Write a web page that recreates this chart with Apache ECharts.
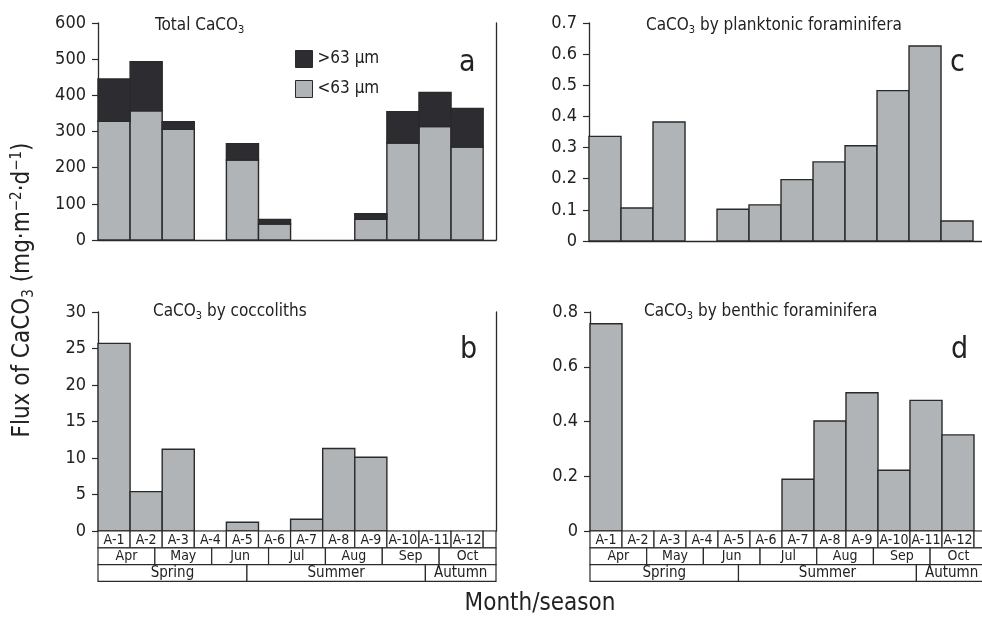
<!DOCTYPE html>
<html>
<head>
<meta charset="utf-8">
<script src="https://cdn.jsdelivr.net/npm/echarts@6/dist/echarts.min.js"></script>
<style>
html, body { margin: 0; padding: 0; background: #fff; }
#chart { width: 982px; height: 618px; }
</style>
</head>
<body>
<div id="chart"></div>
<script>
// sample cups and the calendar rows under the lower panels
const samples = ['A-1', 'A-2', 'A-3', 'A-4', 'A-5', 'A-6', 'A-7', 'A-8', 'A-9', 'A-10', 'A-11', 'A-12']
const months = ['Apr', 'May', 'Jun', 'Jul', 'Aug', 'Sep', 'Oct']
const seasons = ['Spring', 'Summer', 'Autumn']
const seasonEdges = [0, 4.64, 10.2, 12.4]
const xMax = 12.4

// flux values (mg m-2 d-1)
const totalCaCO3 = [445, 493, 327, 0, 266, 57, 0, 0, 73, 355, 408, 364]
const fineCaCO3 = [328, 357, 306, 0, 221, 44, 0, 0, 57, 268, 314, 257]
const coccoliths = [25.7, 5.4, 11.2, 0, 1.2, 0, 1.6, 11.3, 10.1, 0, 0, 0]
const planktonic = [0.336, 0.106, 0.382, 0, 0.102, 0.116, 0.197, 0.254, 0.306, 0.483, 0.626, 0.064]
const benthic = [0.757, 0, 0, 0, 0, 0, 0.189, 0.402, 0.505, 0.222, 0.477, 0.351]

const FONT = "'Liberation Sans Narrow', 'DejaVu Sans Condensed', sans-serif"
const GRAY = '#b1b4b6'
const DARK = '#2c2c31'
const INK = '#2a2a2a'

// right-hand panels run off the page edge, so their axes stop short of xMax
const grids = [
  { left: 98, top: 23, width: 398, height: 217 },
  { left: 589, top: 23, right: 0, height: 218 },
  { left: 98, top: 312, width: 398, height: 219 },
  { left: 590, top: 312, right: 0, height: 219 }
]
const panelXMax = [xMax, 12.28, xMax, 12.25]
const yMax = [600, 0.7, 30, 0.8]
const yStep = [100, 0.1, 5, 0.2]
const frame = [true, false, true, false]

function barRender(color) {
  return function (params, api) {
    let x = api.value(0), y0 = api.value(1), y1 = api.value(2)
    if (!(y1 > y0)) return null
    let a = api.coord([x, y0]), b = api.coord([x + 1, y1])
    return {
      type: 'rect',
      shape: { x: a[0], y: b[1], width: b[0] - a[0], height: a[1] - b[1] },
      style: { fill: color, stroke: INK, lineWidth: 1.4 }
    }
  }
}

function barData(values, base) {
  return values.map((v, i) => [i, base ? base[i] : 0, v])
}

// cells of the label table: [x0, x1, row]
let cellData = []
let cellText = []
samples.forEach((s, i) => { cellData.push([i, i + 1, 0]); cellText.push(s) })
cellData.push([12, xMax, 0]); cellText.push('')
months.forEach((m, i) => {
  let w = xMax / months.length
  cellData.push([i * w, (i + 1) * w, 1]); cellText.push(m)
})
seasons.forEach((s, i) => { cellData.push([seasonEdges[i], seasonEdges[i + 1], 2]); cellText.push(s) })

const rowH = 16.8
function cellRender(params, api) {
  let x0 = api.value(0), x1 = api.value(1), row = api.value(2)
  let a = api.coord([x0, 0]), b = api.coord([x1, 0])
  let top = a[1] + row * rowH
  return {
    type: 'group',
    children: [
      { type: 'rect', shape: { x: a[0], y: top, width: b[0] - a[0], height: rowH },
        style: { fill: '#fff', stroke: INK, lineWidth: 1.2 } },
      { type: 'text', x: (a[0] + b[0]) / 2, y: top + rowH / 2 + 0.5,
        style: { text: cellText[params.dataIndex], align: 'center', verticalAlign: 'middle',
          font: (row === 2 ? '15px ' : '14px ') + FONT, fill: '#222' } }
    ]
  }
}

let chart = echarts.init(document.getElementById('chart'))

let xAxes = grids.map((g, i) => ({
  type: 'value', gridIndex: i, min: 0, max: panelXMax[i],
  axisLine: { show: true, onZero: false, lineStyle: { color: INK, width: 1.3 } },
  axisTick: { show: false }, axisLabel: { show: false }, splitLine: { show: false }
}))
let yAxes = []
grids.forEach((g, i) => {
  yAxes.push({
    type: 'value', gridIndex: i, min: 0, max: yMax[i], interval: yStep[i],
    axisLine: { show: true, lineStyle: { color: INK, width: 1.3 } },
    axisTick: { show: true, length: 6, lineStyle: { color: INK, width: 1.2 } },
    axisLabel: { color: '#222', fontSize: 18, fontFamily: FONT, margin: 12 },
    splitLine: { show: false }
  })
  yAxes.push({
    type: 'value', gridIndex: i, min: 0, max: yMax[i], position: 'right', show: frame[i],
    axisLine: { show: true, lineStyle: { color: INK, width: 1.3 } },
    axisTick: { show: false }, axisLabel: { show: false }, splitLine: { show: false }
  })
})

const subRich = { s: { fontSize: 11, fontFamily: FONT, color: '#222', padding: [9, 0, 0, 0] } }
function panelTitle(text, left, top) {
  return { text: text, left: left, top: top, padding: 0,
    textStyle: { fontSize: 17, fontWeight: 'normal', fontFamily: FONT, color: '#222', rich: subRich } }
}
function panelLetter(text, left, top) {
  return { text: text, left: left, top: top, padding: 0,
    textStyle: { fontSize: 30, fontWeight: 'normal', fontFamily: FONT, color: '#222' } }
}

let option = {
  animation: false,
  grid: grids,
  xAxis: xAxes,
  yAxis: yAxes,
  title: [
    panelTitle('Total CaCO{s|3}', 155, 16),
    panelTitle('CaCO{s|3} by planktonic foraminifera', 646, 16),
    panelTitle('CaCO{s|3} by coccoliths', 153, 302),
    panelTitle('CaCO{s|3} by benthic foraminifera', 644, 302),
    panelLetter('a', 459, 48),
    panelLetter('c', 950, 48),
    panelLetter('b', 460, 335),
    panelLetter('d', 951, 335)
  ],
  legend: {
    orient: 'vertical', left: 290, top: 45, itemWidth: 17, itemHeight: 17, itemGap: 12,
    selectedMode: false,
    textStyle: { fontSize: 17, fontFamily: FONT, color: '#222' },
    data: [
      { name: '>63 μm', icon: 'rect', itemStyle: { color: DARK, borderColor: INK, borderWidth: 1 } },
      { name: '<63 μm', icon: 'rect', itemStyle: { color: GRAY, borderColor: INK, borderWidth: 1 } }
    ]
  },
  graphic: [
    { type: 'text', x: 23, y: 290, rotation: Math.PI / 2, origin: [0, 0],
      style: { text: 'Flux of CaCO{s|3} (mg·m{p|−2}·d{p|−1})', align: 'center', verticalAlign: 'middle',
        font: '24px ' + FONT, fill: '#222',
        rich: { s: { fontSize: 15, fontFamily: FONT, padding: [13, 0, 0, 0] },
                p: { fontSize: 15, fontFamily: FONT, padding: [0, 0, 11, 0] } } } },
    { type: 'text', x: 540, y: 604, style: { text: 'Month/season', align: 'center', verticalAlign: 'middle',
        font: '24px ' + FONT, fill: '#222' } }
  ],
  series: [
    { name: '<63 μm', type: 'custom', xAxisIndex: 0, yAxisIndex: 0, renderItem: barRender(GRAY),
      itemStyle: { color: GRAY }, data: barData(fineCaCO3), encode: { x: 0, y: [1, 2] } },
    { name: '>63 μm', type: 'custom', xAxisIndex: 0, yAxisIndex: 0, renderItem: barRender(DARK),
      itemStyle: { color: DARK }, data: barData(totalCaCO3, fineCaCO3), encode: { x: 0, y: [1, 2] } },
    { name: 'planktonic', type: 'custom', xAxisIndex: 1, yAxisIndex: 2, renderItem: barRender(GRAY),
      data: barData(planktonic), encode: { x: 0, y: [1, 2] } },
    { name: 'coccoliths', type: 'custom', xAxisIndex: 2, yAxisIndex: 4, renderItem: barRender(GRAY),
      data: barData(coccoliths), encode: { x: 0, y: [1, 2] } },
    { name: 'benthic', type: 'custom', xAxisIndex: 3, yAxisIndex: 6, renderItem: barRender(GRAY),
      data: barData(benthic), encode: { x: 0, y: [1, 2] } },
    { name: 'cells b', type: 'custom', xAxisIndex: 2, yAxisIndex: 4, renderItem: cellRender, clip: false,
      data: cellData, encode: { x: [0, 1] } },
    { name: 'cells d', type: 'custom', xAxisIndex: 3, yAxisIndex: 6, renderItem: cellRender, clip: false,
      data: cellData, encode: { x: [0, 1] } }
  ]
}
chart.setOption(option)
</script>
</body>
</html>
